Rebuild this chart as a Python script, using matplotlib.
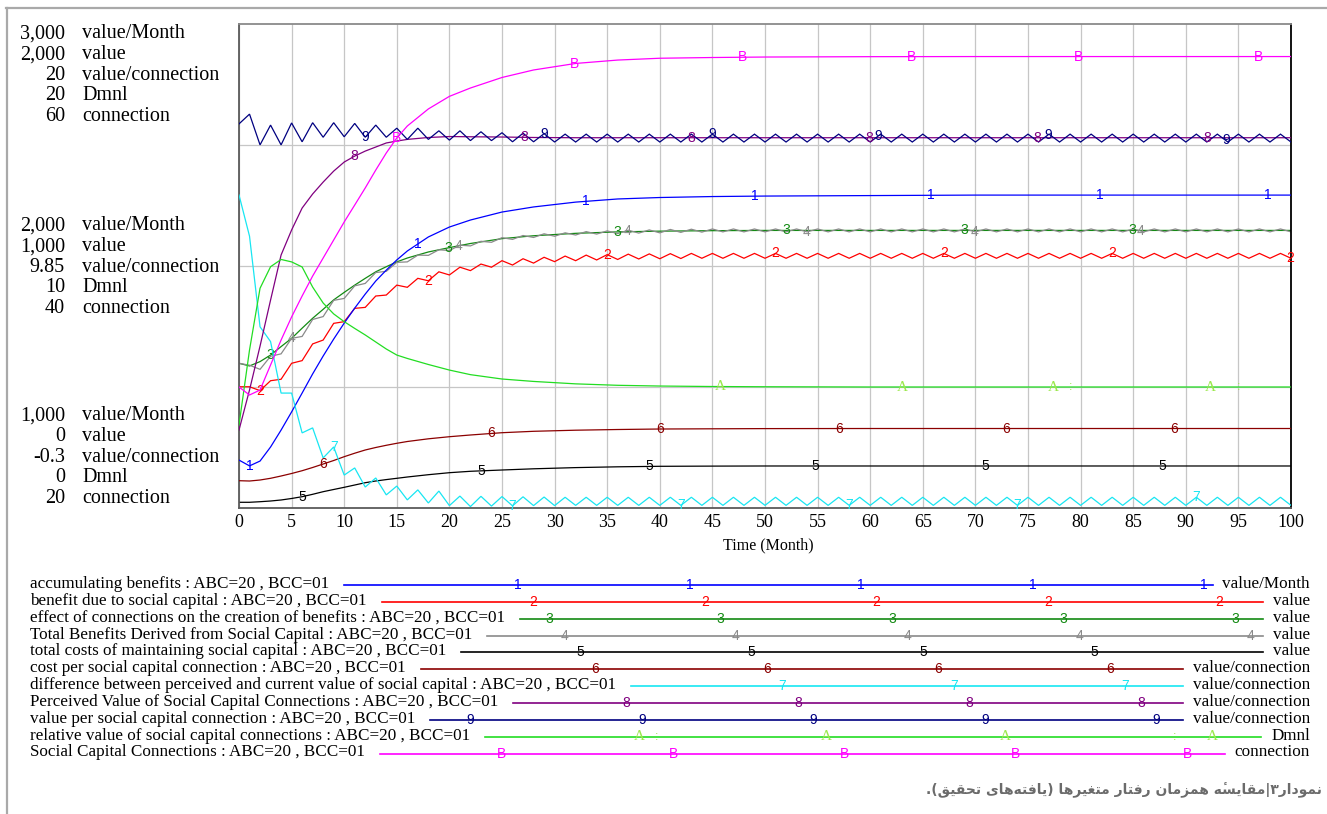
import numpy as np
import matplotlib
matplotlib.use('Agg')
import matplotlib.pyplot as plt
from matplotlib.lines import Line2D

W, H = 1327, 814

# ---- data (Time in months) ----
t_smooth = [0, 1, 2, 3, 4, 5, 6, 7, 8, 9, 10, 11, 12, 13, 14, 15, 16, 18, 20, 22,
            25, 28, 32, 36, 40, 45, 50, 60, 70, 80, 100]
months = list(range(101))

# 1 accumulating benefits (value/Month)
accumulating_benefits = [1198, 1174, 1194, 1252, 1322, 1397, 1475, 1554, 1628, 1698,
                         1764, 1826, 1884, 1938, 1983, 2025, 2062, 2120, 2161, 2190,
                         2223, 2244, 2264, 2277, 2283, 2287, 2289, 2291, 2293, 2293, 2293]

# 2 benefit due to social capital (value), monthly
benefit_due = [501, 501, 485, 526, 532, 598, 609, 678, 694, 763,
               770, 825, 829, 876, 880, 921, 912, 949, 939, 976,
               963, 995, 981, 1008, 995, 1022, 1004, 1030, 1012, 1036,
               1018, 1041, 1022, 1045, 1025, 1047, 1027, 1049, 1029, 1050,
               1030, 1051, 1031, 1052, 1032, 1052, 1032, 1052, 1032, 1052,
               1032, 1052, 1032, 1052, 1032, 1052, 1032, 1052, 1032, 1052,
               1032, 1052, 1032, 1052, 1032, 1052, 1032, 1052, 1032, 1052,
               1032, 1052, 1032, 1052, 1032, 1052, 1032, 1052, 1032, 1052,
               1032, 1052, 1032, 1052, 1032, 1052, 1032, 1052, 1032, 1052,
               1032, 1052, 1032, 1052, 1032, 1052, 1032, 1052, 1032, 1052,
               1032]

# 3 effect of connections on the creation of benefits (value)
effect_connections = [598, 587, 605, 632, 667, 701, 743, 784, 821, 860,
                      891, 921, 949, 976, 997, 1017, 1033, 1058, 1076, 1093,
                      1113, 1125, 1135, 1141, 1144, 1146, 1147, 1147, 1147, 1147, 1147]

# 4 Total Benefits Derived from Social Capital (value), monthly
total_benefits = [598, 590, 573, 627, 637, 701, 709, 779, 791, 858,
                  866, 918, 928, 973, 978, 1015, 1017, 1045, 1044, 1067,
                  1064, 1086, 1083, 1102, 1098, 1117, 1110, 1126, 1118, 1133,
                  1123, 1137, 1128, 1142, 1132, 1145, 1134, 1148, 1136, 1149,
                  1137, 1151, 1139, 1152, 1140, 1153, 1141, 1153, 1141, 1153,
                  1141, 1153, 1141, 1153, 1141, 1153, 1141, 1153, 1141, 1153,
                  1141, 1153, 1141, 1153, 1141, 1153, 1141, 1153, 1141, 1153,
                  1141, 1153, 1141, 1153, 1141, 1153, 1141, 1153, 1141, 1153,
                  1141, 1153, 1141, 1153, 1141, 1153, 1141, 1153, 1141, 1153,
                  1141, 1153, 1141, 1153, 1141, 1153, 1141, 1153, 1141, 1153,
                  1141]

# 5 total costs of maintaining social capital (value)
total_costs = [23.6, 23.6, 26.0, 28.9, 33.1, 39.3, 46.7, 56.6, 67.4, 76.5,
               85.5, 95.0, 104.5, 111.6, 117.4, 122.7, 128.1, 137.6, 145.9, 151.7,
               157.0, 162.0, 166.9, 170.2, 172.3, 173.1, 173.6, 173.6, 173.6, 173.6, 173.6]

# 6 cost per social capital connection (value/connection)
cost_per_connection = [0.845, 0.832, 0.874, 0.946, 1.042, 1.147, 1.264, 1.399, 1.545, 1.692,
                       1.852, 1.998, 2.133, 2.238, 2.330, 2.414, 2.489, 2.602, 2.690, 2.762,
                       2.858, 2.917, 2.963, 2.992, 3.013, 3.022, 3.030, 3.034, 3.034, 3.034, 3.034]

# 7 difference between perceived and current value (value/connection), monthly
value_difference = [12.83, 11.10, 7.30, 6.68, 4.52, 4.52, 2.85, 3.06, 1.80, 2.26,
                    1.08, 1.38, 0.58, 0.96, 0.25, 0.62, 0.04, 0.46, -0.09, 0.41,
                    -0.20, 0.20, -0.24, 0.19, -0.22, 0.18, -0.21, 0.17, -0.20, 0.16,
                    -0.20, 0.15, -0.19, 0.15, -0.19, 0.15, -0.19, 0.15, -0.19, 0.15,
                    -0.19, 0.15, -0.19, 0.15, -0.19, 0.15, -0.19, 0.15, -0.19, 0.15,
                    -0.19, 0.15, -0.19, 0.15, -0.19, 0.15, -0.19, 0.15, -0.19, 0.15,
                    -0.19, 0.15, -0.19, 0.15, -0.19, 0.15, -0.19, 0.15, -0.19, 0.15,
                    -0.19, 0.15, -0.19, 0.15, -0.19, 0.15, -0.19, 0.15, -0.19, 0.15,
                    -0.19, 0.15, -0.19, 0.15, -0.19, 0.15, -0.19, 0.15, -0.19, 0.15,
                    -0.19, 0.15, -0.19, 0.15, -0.19, 0.15, -0.19, 0.15, -0.19, 0.15,
                    -0.19]

# 8 Perceived Value of Social Capital Connections (value/connection)
perceived_value = [2.97, 4.65, 6.49, 8.42, 10.31, 11.36, 12.28, 12.87, 13.37, 13.83,
                   14.21, 14.46, 14.67, 14.84, 15.01, 15.09, 15.16, 15.24, 15.28, 15.27,
                   15.26, 15.24, 15.23, 15.23, 15.23, 15.23, 15.23, 15.23, 15.23, 15.23, 15.23]

# 9 value per social capital connection (value/connection), monthly
value_per_connection = [15.81, 16.22, 14.93, 15.76, 14.93, 15.85, 15.06, 15.86, 15.25, 15.86,
                        15.27, 15.83, 15.25, 15.76, 15.25, 15.63, 15.16, 15.63, 15.16, 15.52,
                        15.13, 15.52, 15.11, 15.48, 15.11, 15.44, 15.06, 15.42, 15.06, 15.40,
                        15.05, 15.38, 15.05, 15.38, 15.05, 15.38, 15.05, 15.38, 15.05, 15.38,
                        15.05, 15.38, 15.05, 15.38, 15.05, 15.38, 15.05, 15.38, 15.05, 15.38,
                        15.05, 15.38, 15.05, 15.38, 15.05, 15.38, 15.05, 15.38, 15.05, 15.38,
                        15.05, 15.38, 15.05, 15.38, 15.05, 15.38, 15.05, 15.38, 15.05, 15.38,
                        15.05, 15.38, 15.05, 15.38, 15.05, 15.38, 15.05, 15.38, 15.05, 15.38,
                        15.05, 15.38, 15.05, 15.38, 15.05, 15.38, 15.05, 15.38, 15.05, 15.38,
                        15.05, 15.38, 15.05, 15.38, 15.05, 15.38, 15.05, 15.38, 15.05, 15.38,
                        15.05]

# A relative value of social capital connections (Dmnl)
relative_value = [3.43, 6.53, 9.08, 9.97, 10.27, 10.17, 9.96, 9.13, 8.47, 8.02,
                  7.70, 7.42, 7.15, 6.86, 6.57, 6.32, 6.18, 5.93, 5.70, 5.51,
                  5.33, 5.23, 5.13, 5.07, 5.04, 5.02, 5.01, 5.00, 5.00, 5.00, 5.00]

# B Social Capital Connections (connection)
connections = [30.00, 29.34, 29.75, 31.82, 33.88, 35.79, 37.52, 39.17, 40.66, 42.15,
               43.64, 45.04, 46.45, 47.93, 49.34, 50.58, 51.57, 52.98, 54.02, 54.71,
               55.58, 56.20, 56.74, 57.02, 57.17, 57.23, 57.27, 57.30, 57.31, 57.31, 57.31]

# unit scales of the stacked y axis
units = ['value/Month', 'value', 'value/connection', 'Dmnl', 'connection']
unit_min = [1000, 0, -0.3, 0, 20]
unit_max = [3000, 2000, 20, 20, 60]
top_labels = ['3,000', '2,000', '20', '20', '60']
mid_labels = ['2,000', '1,000', '9.85', '10', '40']
bot_labels = ['1,000', '0', '-0.3', '0', '20']

run_suffix = ' : ABC=20 , BCC=01'

# (key, name, unit, t, values, colour, times where the key letter is written)
series = [
    ('1', 'accumulating benefits', 'value/Month', t_smooth, accumulating_benefits,
     '#0000ff', [1, 17, 33, 49, 65.8, 81.8, 97.8]),
    ('2', 'benefit due to social capital', 'value', months, benefit_due,
     '#ff0000', [2, 18, 35, 51, 67, 83, 99.9]),
    ('3', 'effect of connections on the creation of benefits', 'value', t_smooth, effect_connections,
     '#138a13', [3, 19.9, 36, 52, 68.9, 84.9]),
    ('4', 'Total Benefits Derived from Social Capital', 'value', months, total_benefits,
     '#8a8a8a', [5, 20.9, 36.9, 53.9, 69.9, 85.7]),
    ('5', 'total costs of maintaining social capital', 'value', t_smooth, total_costs,
     '#000000', [6, 23, 39, 54.8, 70.9, 87.8]),
    ('6', 'cost per social capital connection', 'value/connection', t_smooth, cost_per_connection,
     '#8b0000', [8, 24, 40, 57, 72.9, 88.9]),
    ('7', 'difference between perceived and current value of social capital', 'value/connection',
     months, value_difference, '#18e6f2', [9, 26, 42, 58, 74, 91]),
    ('8', 'Perceived Value of Social Capital Connections', 'value/connection', t_smooth, perceived_value,
     '#800080', [11, 27.1, 43, 59.9, 75.9, 92]),
    ('9', 'value per social capital connection', 'value/connection', months, value_per_connection,
     '#000080', [12, 29, 45, 60.8, 76.9, 93.8]),
    ('A', 'relative value of social capital connections', 'Dmnl', t_smooth, relative_value,
     '#22dd22', [45.8, 63.1, 77.4, 92.3]),
    ('B', 'Social Capital Connections', 'connection', t_smooth, connections,
     '#ff00ff', [15, 31.9, 47.9, 63.9, 79.8, 96.9]),
]
A_LABEL_COLOR = '#9be84c'

caption = 'نمودار۳|مقایسهٔ همزمان رفتار متغیرها (یافته\u200cهای تحقیق).'

# Arabic presentation forms: isolated, final, initial, medial
AR_FORMS = {
    'ا': ('\uFE8D', '\uFE8E', None, None),
    'ت': ('\uFE95', '\uFE96', '\uFE97', '\uFE98'),
    'ح': ('\uFEA1', '\uFEA2', '\uFEA3', '\uFEA4'),
    'د': ('\uFEA9', '\uFEAA', None, None),
    'ر': ('\uFEAD', '\uFEAE', None, None),
    'ز': ('\uFEAF', '\uFEB0', None, None),
    'س': ('\uFEB1', '\uFEB2', '\uFEB3', '\uFEB4'),
    'غ': ('\uFECD', '\uFECE', '\uFECF', '\uFED0'),
    'ف': ('\uFED1', '\uFED2', '\uFED3', '\uFED4'),
    'ق': ('\uFED5', '\uFED6', '\uFED7', '\uFED8'),
    'م': ('\uFEE1', '\uFEE2', '\uFEE3', '\uFEE4'),
    'ن': ('\uFEE5', '\uFEE6', '\uFEE7', '\uFEE8'),
    'ه': ('\uFEE9', '\uFEEA', '\uFEEB', '\uFEEC'),
    'و': ('\uFEED', '\uFEEE', None, None),
    'ی': ('\uFBFC', '\uFBFD', '\uFBFE', '\uFBFF'),
}
MARKS = {'\u0654'}


def shape_persian(text):
    # matplotlib has no bidi/shaping: join the letters here and lay them out right to left
    letters = [c for c in text if c not in MARKS]
    clusters = []
    j = 0
    for c in text:
        if c in MARKS:
            clusters[-1] += c
            continue
        prev = letters[j - 1] if j > 0 else ''
        nxt = letters[j + 1] if j + 1 < len(letters) else ''
        j += 1
        if c not in AR_FORMS:
            clusters.append(c)
            continue
        iso, fin, ini, med = AR_FORMS[c]
        join_prev = prev in AR_FORMS and AR_FORMS[prev][2] is not None
        join_next = ini is not None and nxt in AR_FORMS
        if join_prev and join_next:
            clusters.append(med)
        elif join_prev:
            clusters.append(fin)
        elif join_next:
            clusters.append(ini)
        else:
            clusters.append(iso)
    clusters = [c for c in clusters if c != '\u200c']
    vis = ''.join(clusters[::-1])
    return vis.translate(str.maketrans('()', ')('))


def fx(px):
    return px / W


def fy(py):
    return 1 - py / H


SERIF = 'Liberation Serif'
SANS = 'Liberation Sans'

fig = plt.figure(figsize=(W / 100, H / 100), dpi=100)
fig.patch.set_facecolor('white')

# outer frame of the screenshot
fig.add_artist(Line2D([fx(6), 1], [fy(8), fy(8)], transform=fig.transFigure,
                      color='#a9a9a9', lw=1.6))
fig.add_artist(Line2D([fx(7), fx(7)], [fy(8), 0], transform=fig.transFigure,
                      color='#a9a9a9', lw=1.6))

ax = fig.add_axes([fx(239), fy(508), fx(1291) - fx(239), fy(24) - fy(508)])
ax.set_xlim(0, 100)
ax.set_xticks(range(0, 101, 5))
ax.set_yticks([500, 1000, 1500])
ax.set_yticklabels([])
ax.tick_params(axis='y', length=0)
ax.tick_params(axis='x', length=0, pad=4, labelsize=13)
for lab in ax.get_xticklabels():
    lab.set_fontfamily(SERIF)
ax.grid(True, color='#c6c6c6', lw=0.9)
ax.set_axisbelow(True)
ax.spines['left'].set_color('#5a5a5a')
ax.spines['bottom'].set_color('#5a5a5a')
ax.spines['top'].set_color('#8a8a8a')
ax.spines['right'].set_color('#000000')
for s in ax.spines.values():
    s.set_linewidth(1.3)

unit_axes = {}
for u, lo, hi in zip(units, unit_min, unit_max):
    a = ax if u == 'value' else ax.twinx()
    a.set_ylim(lo, hi)
    if a is not ax:
        a.axis('off')
    unit_axes[u] = a
ax.set_ylim(unit_min[1], unit_max[1])

for key, name, unit, t, vals, col, mark_t in series:
    a = unit_axes[unit]
    a.plot(t, vals, color=col, lw=0.9, solid_joinstyle='miter')
    for mt in mark_t:
        y = np.interp(mt, t, vals)
        if key == 'A':
            a.text(mt, y, 'A', color=A_LABEL_COLOR, fontsize=11, fontfamily=SERIF,
                   ha='center', va='center')
        else:
            a.text(mt, y, key, color=col, fontsize=10, fontfamily=SANS,
                   ha='center', va='center')

# stray ':' ticks next to some A labels
for mt in [79, 95]:
    a = unit_axes['Dmnl']
    a.text(mt, np.interp(mt, t_smooth, relative_value), ':', color=A_LABEL_COLOR,
           fontsize=9, fontfamily=SANS, ha='center', va='center')

# stacked scale labels on the left
line_h = 20.6
for group, y0 in [(top_labels, 34), (mid_labels, 226), (bot_labels, 416)]:
    for i, (lab, u) in enumerate(zip(group, units)):
        yy = y0 + i * line_h
        fig.text(fx(65), fy(yy), lab, ha='right', va='center', fontsize=14.5,
                 fontfamily=SERIF)
        fig.text(fx(82), fy(yy), u, ha='left', va='center', fontsize=14.5,
                 fontfamily=SERIF)

fig.text(fx(768), fy(545), 'Time (Month)', ha='center', va='center',
         fontsize=11.5, fontfamily=SERIF)

# legend block under the chart
fig.canvas.draw()
renderer = fig.canvas.get_renderer()
row0, row_h = 584, 16.85
for i, (key, name, unit, t, vals, col, mark_t) in enumerate(series):
    yy = row0 + i * row_h
    lt = fig.text(fx(30), fy(yy), name + run_suffix, ha='left', va='center',
                  fontsize=12.3, fontfamily=SERIF)
    ut = fig.text(fx(1310), fy(yy), unit, ha='right', va='center',
                  fontsize=12.3, fontfamily=SERIF)
    x_start = lt.get_window_extent(renderer).x1 + 15
    x_end = ut.get_window_extent(renderer).x0 - 10
    ly = fy(yy + 1)
    fig.add_artist(Line2D([fx(x_start), fx(x_end)], [ly, ly], transform=fig.transFigure,
                          color=col, lw=1.2))
    if key == 'A':
        for xm in [639, 826, 1005, 1212]:
            fig.text(fx(xm), ly, 'A', color=A_LABEL_COLOR, fontsize=11,
                     fontfamily=SERIF, ha='center', va='center')
        for xm in [657, 1175]:
            fig.text(fx(xm), ly, ':', color=A_LABEL_COLOR, fontsize=9,
                     fontfamily=SANS, ha='center', va='center')
        continue
    base = 518 + 15.5 * i
    for k in range(-1, 6):
        xm = base + 171.5 * k
        if x_start + 8 <= xm <= x_end - 3:
            fig.text(fx(xm), ly, key, color=col, fontsize=10, fontfamily=SANS,
                     ha='center', va='center')

fig.text(fx(1322), fy(790), shape_persian(caption), ha='right', va='center',
         fontsize=10, fontweight='bold', fontfamily=['DejaVu Sans'], color='#6b6b6b')

fig.savefig('out.png', dpi=100)
